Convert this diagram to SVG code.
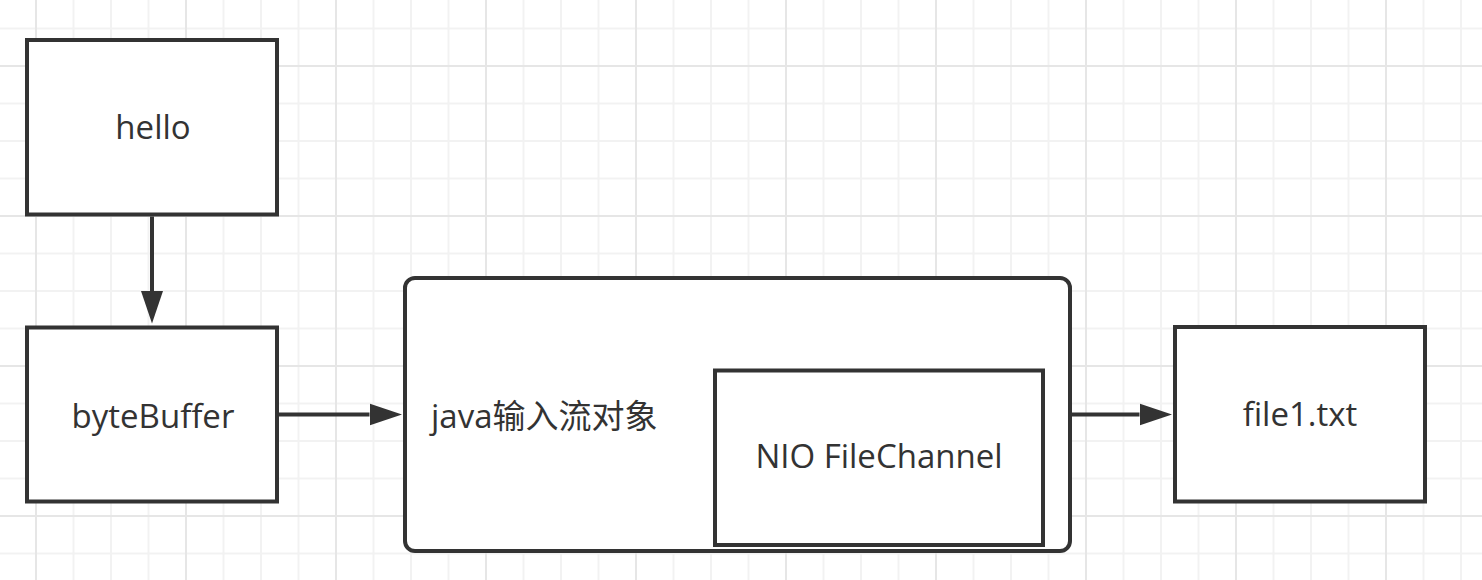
<svg xmlns="http://www.w3.org/2000/svg" width="1482" height="580" viewBox="0 0 1482 580">
  <style>
    .box { fill: #ffffff; stroke: #333333; stroke-width: 4; }
    .lbl { font-family: "Open Sans", "Noto Sans CJK SC", sans-serif; font-size: 33px; fill: #333333; }
    .mid { text-anchor: middle; }
    .edge { fill: none; stroke: #333333; stroke-width: 4; }
  </style>
  <defs>
    <pattern id="gridMinor" patternUnits="userSpaceOnUse" x="17.25" y="9.75" width="37.5" height="37.5">
      <path d="M18.75,0 V37.5 M0,18.75 H37.5" stroke="#f2f2f2" stroke-width="2" fill="none"/>
    </pattern>
    <pattern id="gridMajor" patternUnits="userSpaceOnUse" x="-39" y="-9" width="150" height="150">
      <path d="M75,0 V150 M0,75 H150" stroke="#e6e6e6" stroke-width="2" fill="none"/>
    </pattern>
    <marker id="arrow" markerUnits="userSpaceOnUse" markerWidth="33" markerHeight="24" refX="0" refY="11.5" orient="auto">
      <path d="M0,0.5 L32.5,11.5 L0,22.5 Z" fill="#333333"/>
    </marker>
  </defs>
  <rect x="0" y="0" width="1482" height="580" fill="#ffffff"/>
  <rect x="0" y="0" width="1482" height="580" fill="url(#gridMinor)"/>
  <rect x="0" y="0" width="1482" height="580" fill="url(#gridMajor)"/>

  <g id="connectors">
    <path class="edge" d="M152,216.5 V291" marker-end="url(#arrow)"/>
    <path class="edge" d="M279,414.5 H369.5" marker-end="url(#arrow)"/>
    <path class="edge" d="M1072,414.5 H1139.5" marker-end="url(#arrow)"/>
  </g>

  <g id="node-hello">
    <rect class="box" x="27" y="40" width="250" height="174.5"/>
    <text class="lbl mid" x="153" y="139">hello</text>
  </g>
  <g id="node-bytebuffer">
    <rect class="box" x="27" y="327.5" width="250" height="174"/>
    <text class="lbl mid" x="153" y="427.5">byteBuffer</text>
  </g>
  <g id="node-java">
    <rect class="box" x="405" y="278" width="665" height="273" rx="10" ry="10"/>
    <text class="lbl" x="431" y="428">java输入流对象</text>
  </g>
  <g id="node-nio">
    <rect class="box" x="715" y="370.5" width="328" height="174.5"/>
    <text class="lbl mid" x="879" y="468">NIO FileChannel</text>
  </g>
  <g id="node-file1">
    <rect class="box" x="1175" y="327" width="250" height="174.5"/>
    <text class="lbl mid" x="1300" y="426">file1.txt</text>
  </g>
</svg>
